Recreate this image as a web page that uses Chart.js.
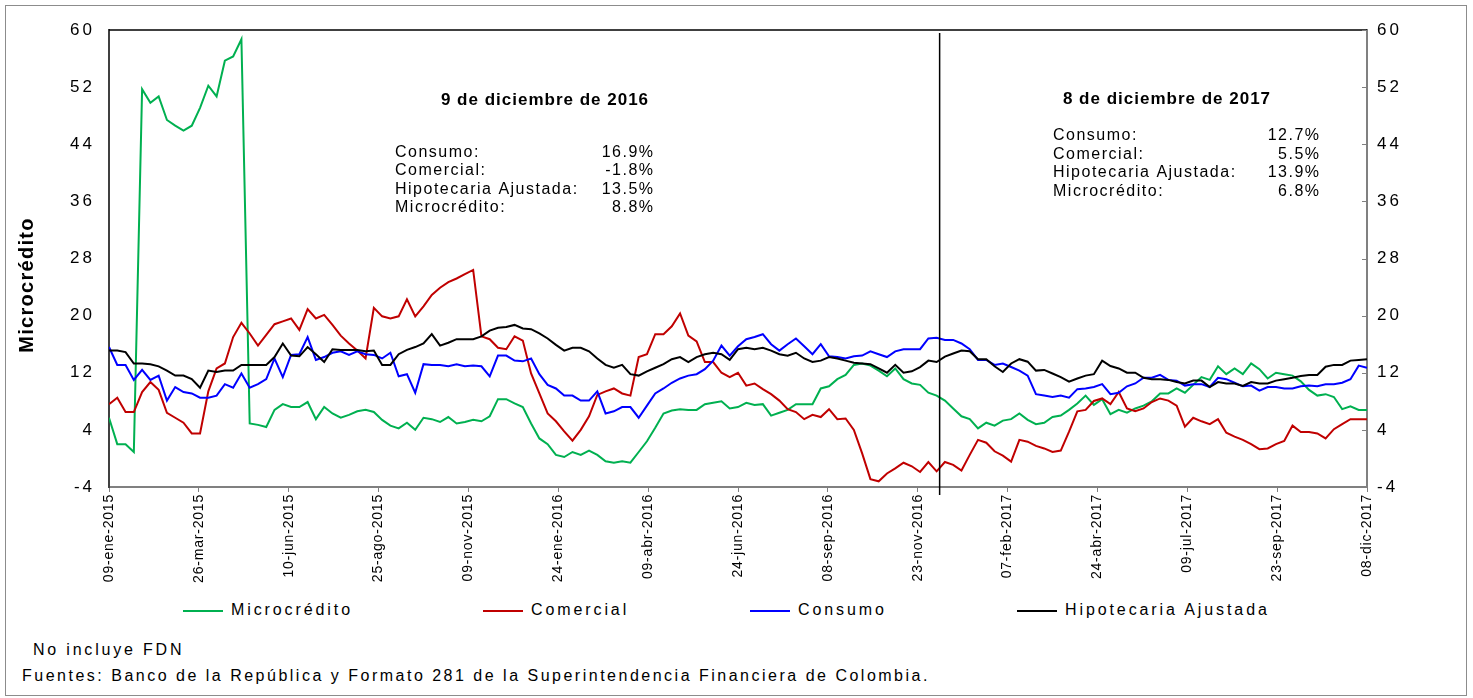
<!DOCTYPE html>
<html>
<head>
<meta charset="utf-8">
<script src="https://cdn.jsdelivr.net/npm/chart.js@4.4.1/dist/chart.umd.min.js"></script>
<style>
  body { margin: 0; background: #fff; font-family: 'Liberation Sans', Arial, sans-serif; }
  #marco { position: absolute; left: 5px; top: 5px; width: 1460px; height: 689px; border: 1px solid #8c8c8c; }
  #grafico { position: absolute; left: 0; top: 0; }
  .ley { position: absolute; top: 601px; font-size: 16px; line-height: 18px; letter-spacing: 2.9px; white-space: nowrap; }
  .ley i { display: inline-block; width: 40px; height: 2px; vertical-align: middle; margin-right: 8px; }
  .nota { position: absolute; font-size: 16px; line-height: 18px; letter-spacing: 2.8px; white-space: nowrap; }
</style>
</head>
<body>
<div id="marco"></div>
<canvas id="grafico" width="1473" height="600"></canvas>
<div id="leyenda"></div>
<div class="nota" style="left:33px; top:641px">No incluye FDN</div>
<div class="nota" style="left:22px; top:667px; letter-spacing:2.5px">Fuentes: Banco de la República y Formato 281 de la Superintendencia Financiera de Colombia.</div>

<script>
// Variación anual (%) semanal, 09-ene-2015 a 08-dic-2017 (153 semanas)
const etiquetasX = ['09-ene-2015', '26-mar-2015', '10-jun-2015', '25-ago-2015', '09-nov-2015',
  '24-ene-2016', '09-abr-2016', '24-jun-2016', '08-sep-2016', '23-nov-2016',
  '07-feb-2017', '24-abr-2017', '09-jul-2017', '23-sep-2017', '08-dic-2017'];

const microcredito = [
  5.7, 2.0, 2.0, 0.9, 51.7, 49.8, 50.7, 47.4, 46.6, 45.9,
  46.6, 49.1, 52.2, 50.7, 55.7, 56.3, 58.7, 4.9, 4.7, 4.4,
  6.8, 7.6, 7.2, 7.2, 7.9, 5.5, 7.2, 6.3, 5.7, 6.1,
  6.6, 6.8, 6.5, 5.4, 4.6, 4.2, 5.0, 4.0, 5.7, 5.5,
  5.1, 5.8, 4.9, 5.1, 5.4, 5.2, 5.9, 8.3, 8.3, 7.7,
  7.2, 4.9, 2.8, 2.0, 0.5, 0.2, 0.9, 0.5, 1.1, 0.5,
  -0.4, -0.6, -0.4, -0.6, 0.9, 2.4, 4.3, 6.3, 6.7, 6.9,
  6.8, 6.8, 7.6, 7.8, 8.0, 7.0, 7.2, 7.8, 7.5, 7.6,
  6.0, 6.4, 6.8, 7.6, 7.6, 7.6, 9.8, 10.1, 11.1, 11.7,
  13.1, 13.3, 13.0, 12.3, 11.5, 12.6, 11.1, 10.5, 10.3, 9.2,
  8.8, 8.1, 7.0, 5.9, 5.5, 4.2, 5.0, 4.6, 5.3, 5.5,
  6.3, 5.4, 4.8, 5.0, 5.8, 6.0, 6.8, 7.7, 8.8, 7.5,
  8.3, 6.2, 6.8, 6.4, 7.0, 7.4, 8.0, 9.1, 9.1, 9.8,
  9.2, 10.3, 11.4, 11.0, 12.9, 11.8, 12.6, 11.8, 13.3, 12.5,
  11.2, 12.0, 11.8, 11.6, 10.8, 9.6, 8.8, 9.0, 8.6, 6.9,
  7.3, 6.8, 6.8
];

const comercial = [
  7.6, 8.5, 6.5, 6.5, 9.3, 10.7, 9.6, 6.4, 5.7, 5.0,
  3.5, 3.5, 9.4, 12.6, 13.3, 17.0, 19.0, 17.5, 15.8, 17.3,
  18.8, 19.2, 19.6, 18.0, 20.9, 19.6, 20.1, 18.7, 17.2, 16.1,
  15.1, 14.0, 21.1, 19.9, 19.6, 19.9, 22.3, 19.9, 21.3, 22.9,
  23.9, 24.7, 25.2, 25.8, 26.4, 17.1, 16.7, 15.5, 15.3, 17.1,
  16.5, 11.9, 9.1, 6.3, 5.2, 3.8, 2.5, 4.0, 5.9, 8.9,
  9.4, 9.8, 9.1, 8.8, 14.2, 14.6, 17.4, 17.4, 18.5, 20.3,
  17.2, 16.4, 13.5, 13.5, 12.0, 11.4, 12.0, 10.2, 10.5, 9.7,
  9.0, 8.1, 6.9, 6.5, 5.5, 6.1, 5.8, 6.9, 5.5, 5.6,
  4.0, 0.7, -2.9, -3.2, -2.1, -1.4, -0.6, -1.1, -1.9, -0.5,
  -1.8, -0.5, -0.9, -1.7, 0.5, 2.6, 2.2, 1.0, 0.4, -0.45,
  2.6, 2.35, 1.75, 1.4, 0.9, 1.1, 3.75, 6.6, 6.8, 8.05,
  8.4, 7.6, 9.3, 7.0, 6.6, 7.0, 7.9, 8.4, 8.1, 7.4,
  4.45, 5.7, 5.2, 4.8, 5.5, 3.6, 3.05, 2.6, 2.0, 1.3,
  1.4, 2.0, 2.45, 4.6, 3.7, 3.7, 3.5, 2.8, 4.1, 4.8,
  5.5, 5.5, 5.5
];

const consumo = [
  15.6, 13.1, 13.1, 11.0, 12.4, 11.0, 11.6, 8.1, 10.0, 9.3,
  9.1, 8.5, 8.5, 8.8, 10.4, 9.9, 11.9, 9.9, 10.4, 11.1,
  14.0, 11.4, 14.5, 14.6, 17.0, 13.8, 14.2, 14.8, 15.0, 14.5,
  15.0, 14.6, 14.5, 14.0, 14.8, 11.5, 11.8, 9.2, 13.2, 13.1,
  13.1, 12.9, 13.2, 12.9, 13.0, 12.9, 11.5, 14.4, 14.4, 13.7,
  13.6, 14.0, 11.8, 10.3, 9.8, 8.8, 8.8, 8.1, 8.1, 9.4,
  6.3, 6.6, 7.2, 7.2, 5.7, 7.4, 9.1, 9.8, 10.6, 11.2,
  11.6, 11.8, 12.5, 13.7, 15.8, 14.4, 15.7, 16.7, 17.0, 17.4,
  16.0, 15.1, 16.0, 16.8, 15.7, 14.6, 16.0, 14.3, 14.2, 14.0,
  14.3, 14.4, 15.0, 14.6, 14.2, 15.0, 15.3, 15.3, 15.3, 16.8,
  16.9, 16.6, 16.6, 16.1, 15.3, 13.8, 13.8, 13.1, 13.3, 12.8,
  12.3, 11.6, 9.0, 8.8, 8.6, 8.8, 8.5, 9.7, 9.8, 10.0,
  10.4, 9.0, 9.2, 10.1, 10.5, 11.3, 11.3, 11.7, 11.0, 10.9,
  10.2, 10.4, 10.4, 10.0, 11.3, 11.1, 10.6, 10.1, 10.2, 9.5,
  10.0, 10.0, 9.8, 9.8, 10.1, 10.2, 10.1, 10.4, 10.4, 10.6,
  11.1, 13.0, 12.7
];

const hipotecaria = [
  15.1, 15.1, 14.9, 13.3, 13.3, 13.2, 12.9, 12.3, 11.6, 11.6,
  11.1, 9.9, 12.3, 12.1, 12.3, 12.3, 13.1, 13.1, 13.1, 13.1,
  14.2, 16.1, 14.4, 14.3, 15.6, 14.6, 13.5, 15.3, 15.2, 15.2,
  15.2, 15.0, 15.1, 13.1, 13.1, 14.6, 15.2, 15.6, 16.1, 17.4,
  15.8, 16.2, 16.7, 16.7, 16.7, 17.1, 17.9, 18.3, 18.4, 18.7,
  18.2, 18.1, 17.5, 16.8, 15.9, 15.1, 15.5, 15.5, 15.0, 14.0,
  13.1, 12.7, 13.1, 11.8, 11.6, 12.2, 12.7, 13.2, 13.9, 14.2,
  13.5, 14.2, 14.6, 14.8, 14.6, 13.8, 15.3, 15.5, 15.3, 15.5,
  15.1, 14.6, 14.4, 14.8, 14.0, 13.5, 13.7, 14.2, 14.0, 13.7,
  13.4, 13.3, 13.2, 12.6, 12.0, 13.1, 12.0, 12.2, 12.8, 13.7,
  13.5, 14.25, 14.7, 15.1, 15.0, 13.9, 13.9, 12.9, 12.1, 13.3,
  13.9, 13.55, 12.3, 12.4, 11.9, 11.4, 10.75, 11.2, 11.6, 11.8,
  13.7, 12.95, 12.6, 12.0, 12.0, 11.3, 11.1, 11.1, 11.0, 10.7,
  10.5, 10.9, 10.9, 10.0, 10.7, 10.5, 10.5, 10.15, 10.7, 10.5,
  10.5, 10.9, 11.1, 11.3, 11.55, 11.7, 11.7, 12.85, 13.1, 13.1,
  13.7, 13.8, 13.9
];

// días desde el 09-ene-2015 (datos semanales)
const dias = microcredito.map((_, i) => i * 7);
const diaCorte = 700; // 9 de diciembre de 2016

const resumen2016 = [['Consumo:', '16.9%'], ['Comercial:', '-1.8%'], ['Hipotecaria Ajustada:', '13.5%'], ['Microcrédito:', '8.8%']];
const resumen2017 = [['Consumo:', '12.7%'], ['Comercial:', '5.5%'], ['Hipotecaria Ajustada:', '13.9%'], ['Microcrédito:', '6.8%']];

const series = [
  { label: 'Microcrédito', valores: microcredito, color: '#00B050' },
  { label: 'Comercial', valores: comercial, color: '#C00000' },
  { label: 'Consumo', valores: consumo, color: '#0000FF' },
  { label: 'Hipotecaria Ajustada', valores: hipotecaria, color: '#000000' },
];

const FUENTE = "'Liberation Sans', Arial, sans-serif";
Chart.defaults.font.family = FUENTE;
Chart.defaults.color = '#000';

// leyenda (HTML, con el espaciado ancho del original)
const posLeyenda = [183, 483, 750, 1017];
const leyenda = document.getElementById('leyenda');
series.forEach((s, k) => {
  const d = document.createElement('div');
  d.className = 'ley';
  d.style.left = posLeyenda[k] + 'px';
  d.innerHTML = '<i style="background:' + s.color + '"></i>' + s.label;
  leyenda.appendChild(d);
});

// espaciado entre letras para las etiquetas de los ejes
const espaciado = {
  id: 'espaciado',
  afterUpdate(chart) {
    const sep = { x: '0.8px', y: '3px', y2: '3px' };
    Object.entries(chart.scales).forEach(([id, s]) => {
      if (s._conEspacio) return;
      const original = s.drawLabels;
      s.drawLabels = function (area) {
        this.ctx.save();
        this.ctx.letterSpacing = sep[id] || '0px';
        original.call(this, area);
        this.ctx.restore();
      };
      s._conEspacio = true;
    });
  }
};

function bloque(ctx, titulo, filas, cx, tituloY, x0, xDer, y0, paso) {
  ctx.font = 'bold 17px ' + FUENTE;
  ctx.letterSpacing = '1px';
  ctx.textAlign = 'center';
  ctx.fillText(titulo, cx, tituloY);
  ctx.font = '16px ' + FUENTE;
  ctx.letterSpacing = '1.5px';
  filas.forEach((f, k) => {
    ctx.textAlign = 'left';
    ctx.fillText(f[0], x0, y0 + k * paso);
    ctx.textAlign = 'right';
    ctx.fillText(f[1], xDer, y0 + k * paso);
  });
}

const extras = {
  id: 'extras',
  afterDraw(chart) {
    const { ctx, chartArea: a, scales } = chart;
    ctx.save();
    // borde superior del área
    ctx.strokeStyle = '#000';
    ctx.lineWidth = 1.5;
    ctx.beginPath();
    ctx.moveTo(a.left, a.top);
    ctx.lineTo(a.right, a.top);
    ctx.stroke();
    // marcas hacia dentro en el eje derecho
    ctx.strokeStyle = '#808080';
    ctx.lineWidth = 1;
    scales.y2.ticks.forEach(t => {
      const py = Math.round(scales.y2.getPixelForValue(t.value)) + 0.5;
      ctx.beginPath();
      ctx.moveTo(a.right - 5, py);
      ctx.lineTo(a.right, py);
      ctx.stroke();
    });
    // línea vertical de corte
    const px = scales.x.getPixelForValue(diaCorte) + 3;
    ctx.strokeStyle = '#000';
    ctx.lineWidth = 1.5;
    ctx.beginPath();
    ctx.moveTo(px, a.top + 3);
    ctx.lineTo(px, a.bottom + 8);
    ctx.stroke();
    // título del eje
    ctx.fillStyle = '#000';
    ctx.save();
    ctx.translate(33, 285);
    ctx.rotate(-Math.PI / 2);
    ctx.font = 'bold 20px ' + FUENTE;
    ctx.letterSpacing = '1.3px';
    ctx.textAlign = 'center';
    ctx.textBaseline = 'alphabetic';
    ctx.fillText('Microcrédito', 0, 0);
    ctx.restore();
    // cuadros de texto
    ctx.textBaseline = 'alphabetic';
    bloque(ctx, '9 de diciembre de 2016', resumen2016, 545, 105, 395, 654.5, 157, 18.3);
    bloque(ctx, '8 de diciembre de 2017', resumen2017, 1167, 104, 1053, 1320.5, 140, 18.7);
    ctx.restore();
  }
};

new Chart(document.getElementById('grafico'), {
  type: 'line',
  data: {
    datasets: series.map((s, k) => ({
      label: s.label,
      data: s.valores.map((v, i) => ({ x: dias[i], y: v })),
      borderColor: s.color,
      backgroundColor: s.color,
      borderWidth: 2,
      pointRadius: 0,
      tension: 0,
      order: series.length - k,
      yAxisID: 'y',
    })),
  },
  options: {
    responsive: false,
    animation: false,
    devicePixelRatio: 1,
    layout: { padding: { top: 30, left: 0, right: 0, bottom: 0 } },
    plugins: { legend: { display: false }, tooltip: { enabled: false } },
    scales: {
      x: {
        type: 'linear',
        min: 0,
        max: 1064,
        ticks: {
          stepSize: 76,
          autoSkip: false,
          minRotation: 90,
          maxRotation: 90,
          padding: 2,
          font: { size: 14 },
          callback: v => etiquetasX[Math.round(v / 76)] || '',
        },
        grid: { drawOnChartArea: false, drawTicks: true, tickLength: 5, color: '#808080', lineWidth: 1 },
        border: { color: '#808080', width: 2 },
        afterFit(s) { s.height = 113; },
      },
      y: {
        position: 'left',
        min: -4,
        max: 60,
        ticks: { stepSize: 8, padding: 14, font: { size: 17 } },
        grid: { display: false, drawTicks: false },
        border: { color: '#404040', width: 2 },
        afterFit(s) { s.width = 109; },
      },
      y2: {
        position: 'right',
        min: -4,
        max: 60,
        ticks: { stepSize: 8, padding: 10, font: { size: 17 } },
        grid: { display: false, drawTicks: false },
        border: { color: '#808080', width: 2 },
        afterFit(s) { s.width = 106; },
      },
    },
  },
  plugins: [espaciado, extras],
});
</script>
</body>
</html>
